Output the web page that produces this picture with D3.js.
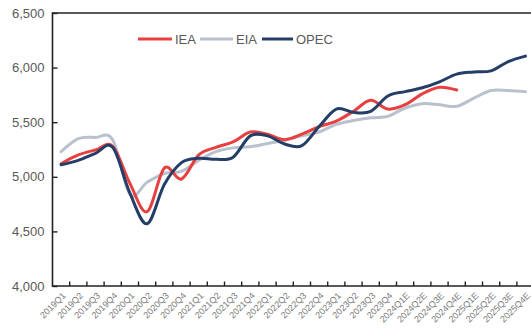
<!DOCTYPE html>
<html><head><meta charset="utf-8">
<script src="https://cdn.jsdelivr.net/npm/d3@7"></script>
<style>
html,body{margin:0;padding:0;background:#fff;}
svg{display:block;font-family:"Liberation Sans",Arial,sans-serif;}
</style></head>
<body><svg id="c" width="531" height="332"></svg>
<script>
const categories = ["2019Q1","2019Q2","2019Q3","2019Q4","2020Q1","2020Q2","2020Q3","2020Q4",
"2021Q1","2021Q2","2021Q3","2021Q4","2022Q1","2022Q2","2022Q3","2022Q4",
"2023Q1","2023Q2","2023Q3","2023Q4","2024Q1E","2024Q2E","2024Q3E","2024Q4E",
"2025Q1E","2025Q2E","2025Q3E","2025Q4E"];
const iea = [5120,5200,5245,5280,4940,4680,5080,4980,5200,5270,5320,5410,5390,5340,5390,5460,
5510,5600,5700,5620,5660,5760,5820,5795];
const eia = [5230,5350,5360,5340,4840,4950,5030,5050,5150,5230,5265,5275,5305,5335,5375,5410,
5480,5515,5540,5555,5630,5670,5660,5645,5720,5790,5790,5780];
const opec = [5110,5150,5215,5270,4850,4570,4930,5130,5170,5160,5180,5375,5375,5300,5285,5460,
5620,5590,5600,5740,5780,5815,5870,5940,5960,5970,6055,6105];
const yTicks = [4000,4500,5000,5500,6000,6500];
const seriesNames = ["IEA","EIA","OPEC"];
const seriesColors = ["#e8403f","#b9c1cd","#243e68"];

const svg = d3.select("#c");
const pLeft = 52.5, pTop = 13, pBottom = 286, band = 17.2;
const pRight = pLeft + band*categories.length;

const x = d3.scaleBand().domain(categories).range([pLeft, pRight]).padding(0);
const y = d3.scaleLinear().domain([4000,6500]).range([pBottom, pTop]);

// top border
svg.append("line").attr("x1",pLeft).attr("x2",531).attr("y1",pTop).attr("y2",pTop)
  .attr("stroke","#222").attr("stroke-width",1.6);

// y axis
const yAxis = svg.append("g").attr("transform",`translate(${pLeft},0)`)
  .call(d3.axisRight(y).tickValues(yTicks).tickSize(5).tickFormat(d3.format(",")));
yAxis.select(".domain").remove();
yAxis.selectAll(".tick line").attr("stroke","#222").attr("stroke-width",1.4);
yAxis.selectAll(".tick text").attr("x",-8).attr("text-anchor","end")
  .attr("font-size",13).attr("fill","#595959");
svg.append("line").attr("x1",pLeft).attr("x2",pLeft).attr("y1",pTop-0.8).attr("y2",pBottom)
  .attr("stroke","#222").attr("stroke-width",1.6);

// x axis: ticks between categories
const xb = svg.append("g");
const bounds = categories.slice(1).map(c => x(c));
xb.selectAll("line.t").data(bounds).join("line").attr("class","t")
  .attr("x1",d=>d).attr("x2",d=>d).attr("y1",pBottom).attr("y2",pBottom-4.5)
  .attr("stroke","#222").attr("stroke-width",1.4);
svg.append("line").attr("x1",pLeft-0.8).attr("x2",531).attr("y1",pBottom).attr("y2",pBottom)
  .attr("stroke","#222").attr("stroke-width",1.6);
xb.selectAll("text").data(categories).join("text")
  .attr("transform",d=>`translate(${x(d)+x.bandwidth()/2+3},${pBottom+8}) rotate(-45)`)
  .attr("text-anchor","end").attr("dy","0.35em")
  .attr("font-size",9).attr("fill","#7a7a7a").text(d=>d);

// lines
const line = d3.line().x((d,i)=>x(categories[i])+x.bandwidth()/2).y(d=>y(d))
  .curve(d3.curveCardinal.tension(0));
const data = [iea, eia, opec];
[1,0,2].forEach(k=>{
  svg.append("path").datum(data[k]).attr("d",line).attr("fill","none")
    .attr("stroke",seriesColors[k]).attr("stroke-width",3)
    .attr("stroke-linejoin","round").attr("stroke-linecap","round");
});

// legend
const legendPos = [[138,172,175],[200,233,236],[262,293,296]];
const ly = 39;
seriesNames.forEach((n,k)=>{
  const p = legendPos[k];
  svg.append("line").attr("x1",p[0]).attr("x2",p[1]).attr("y1",ly).attr("y2",ly)
    .attr("stroke",seriesColors[k]).attr("stroke-width",3);
  svg.append("text").attr("x",p[2]).attr("y",ly).attr("dy","0.35em")
    .attr("font-size",13).attr("fill","#595959").text(n);
});
</script></body></html>
